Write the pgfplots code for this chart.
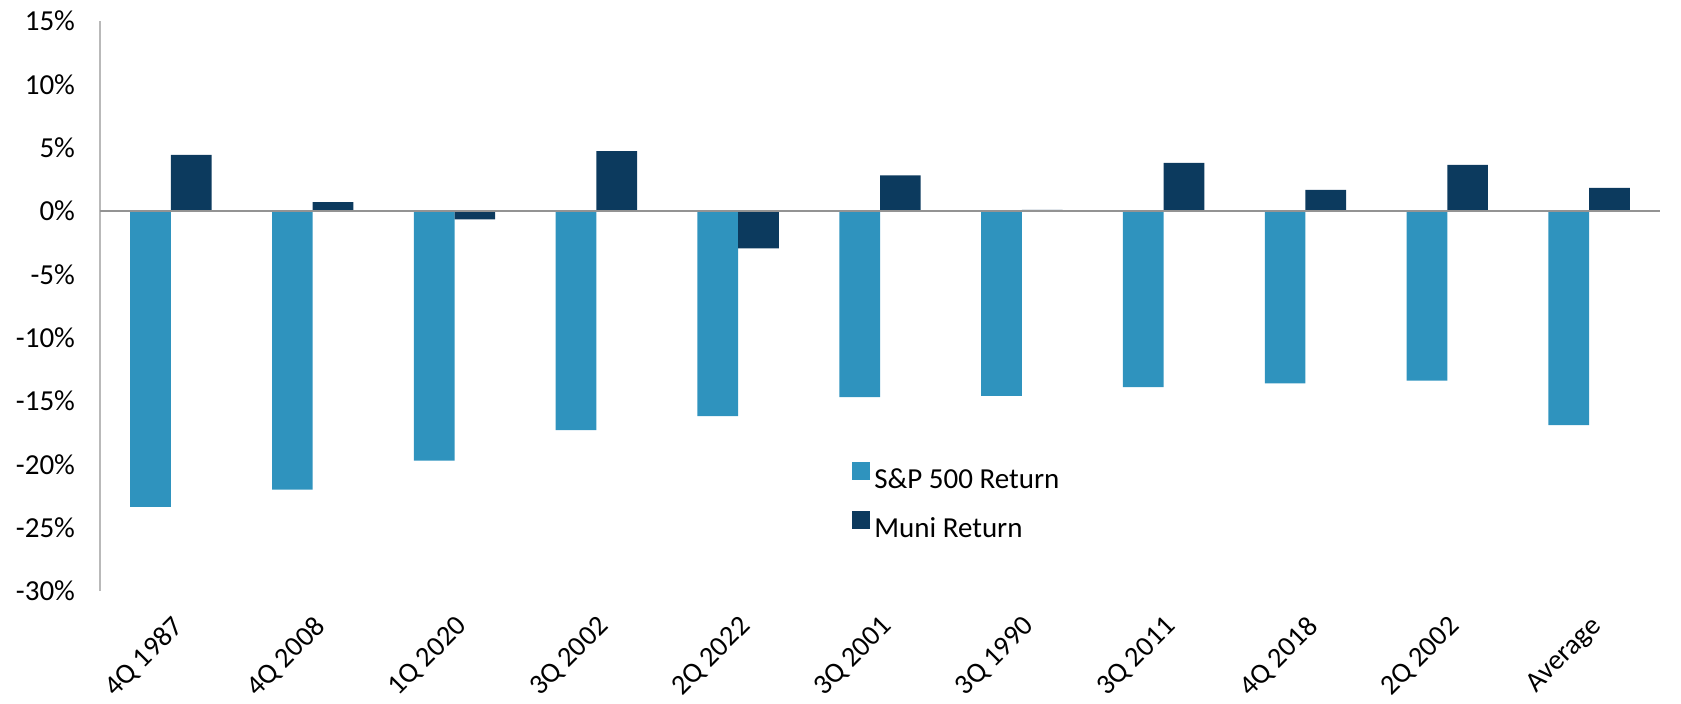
\documentclass[border=0pt]{standalone}
\usepackage{pgfplots}
\pgfplotsset{compat=1.18}
\usepackage{fontspec}
\setmainfont{Carlito}
\definecolor{spblue}{HTML}{2F93BE}
\definecolor{muni}{HTML}{0C3A5E}
\begin{document}
\begin{tikzpicture}
\begin{axis}[
  at={(0,0)}, anchor=south west,
  scale only axis, width=780pt, height=285pt,
  ybar=0pt, bar width=20.35pt,
  xmin=-0.5, xmax=10.5, ymin=-30, ymax=15,
  xtick={0,...,10},
  xticklabels={4Q 1987, 4Q 2008, 1Q 2020, 3Q 2002, 2Q 2022, 3Q 2001, 3Q 1990, 3Q 2011, 4Q 2018, 2Q 2002, Average},
  ytick={-30,-25,...,15},
  yticklabels={-30\%,-25\%,-20\%,-15\%,-10\%,-5\%,0\%,5\%,10\%,15\%},
  axis x line*=bottom, axis y line*=left,
  x axis line style={draw=none},
  y axis line style={draw=gray!55, line width=1pt},
  major tick length=0pt,
  tick label style={font=\fontsize{14.5}{17}\selectfont},
  yticklabel style={xshift=-9pt},
  xticklabel style={yshift=-11.5pt, rotate=45, anchor=north east, inner sep=0pt, font=\fontsize{14.2}{17}\selectfont},
  legend style={at={(rel axis cs:0.482,0.227)}, anchor=north west, draw=none, fill=none,
    font=\fontsize{14.5}{17}\selectfont, row sep=8pt, inner sep=0pt},
  legend cell align=left,
  legend image code/.code={\fill[#1] (0pt,0pt) rectangle (9pt,9pt);},
]
\addplot[fill=spblue, draw=none] coordinates {(0,-23.36) (1,-22.0) (2,-19.7) (3,-17.3) (4,-16.2) (5,-14.7) (6,-14.6) (7,-13.9) (8,-13.6) (9,-13.4) (10,-16.9)};
\addplot[fill=muni, draw=none] coordinates {(0,4.43) (1,0.71) (2,-0.66) (3,4.72) (4,-2.96) (5,2.82) (6,0.08) (7,3.80) (8,1.66) (9,3.64) (10,1.82)};
\legend{S\&P 500 Return, Muni Return}
\draw[gray!85, line width=1pt] (axis cs:-0.5,0) -- (axis cs:10.5,0);
\end{axis}
\path (-50pt,-56pt) rectangle (790.5pt,295.5pt);
\end{tikzpicture}
\end{document}
